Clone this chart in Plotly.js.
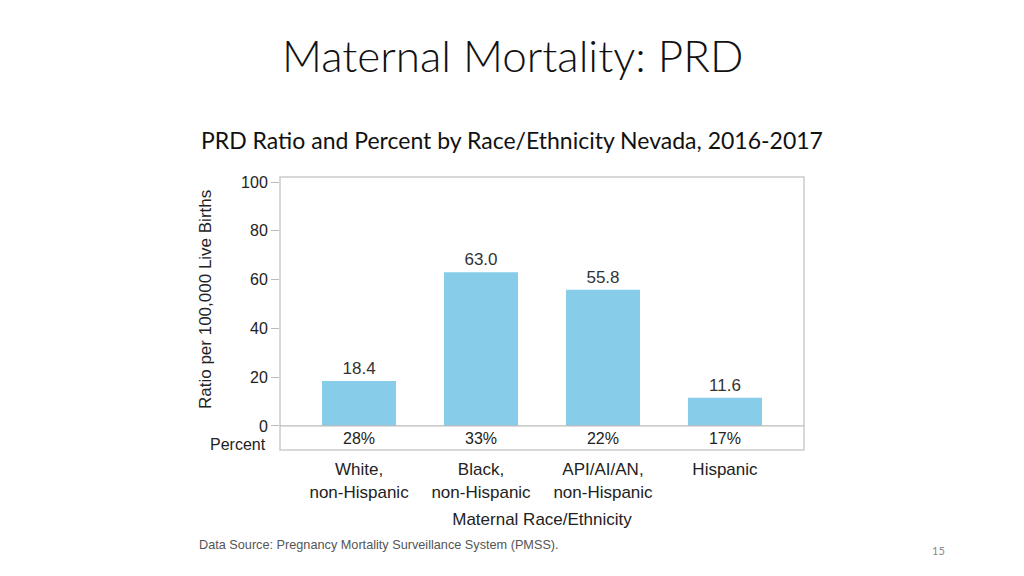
<!DOCTYPE html>
<html>
<head>
<meta charset="utf-8">
<script src="https://cdn.plot.ly/plotly-3.0.1.min.js"></script>
<style>html,body{margin:0;padding:0;background:#fff;}#chart{width:1024px;height:576px;}</style>
</head>
<body>
<div id="chart"></div>
<script>
// Data
const categories = ["White,<br>non-Hispanic", "Black,<br>non-Hispanic", "API/AI/AN,<br>non-Hispanic", "Hispanic"];
const ratios = [18.4, 63.0, 55.8, 11.6];
const ratioLabels = ["18.4", "63.0", "55.8", "11.6"];
const percents = ["28%", "33%", "22%", "17%"];
const yTicks = [0, 20, 40, 60, 80, 100];

const idx = categories.map((c, i) => i);
const FONT = "Liberation Sans, Arial, sans-serif";
const FS = 17;

const bars = {
  type: "bar",
  x: idx,
  y: ratios,
  width: 0.607,
  marker: {color: "#87CDEA", line: {width: 0}},
  text: ratioLabels,
  textposition: "outside",
  cliponaxis: false,
  textfont: {family: FONT, size: FS, color: "#333"},
  hoverinfo: "skip"
};

const pctTrace = {
  type: "scatter",
  mode: "text",
  x: idx,
  y: idx.map(() => -5.6),
  text: percents,
  textposition: "middle center",
  textfont: {family: FONT, size: 16, color: "#222"},
  hoverinfo: "skip",
  cliponaxis: false
};

const layout = {
  width: 1024, height: 576,
  paper_bgcolor: "#ffffff", plot_bgcolor: "#ffffff",
  margin: {l: 280, r: 220, t: 177, b: 126},
  showlegend: false,
  xaxis: {
    range: [-0.648, 3.648],
    tickvals: idx, ticktext: categories,
    showgrid: false, zeroline: false, showline: false,
    ticks: "outside", ticklen: 4, tickcolor: "rgba(0,0,0,0)",
    tickfont: {family: FONT, size: FS, color: "#222"},
    title: {text: "Maternal Race/Ethnicity", font: {family: FONT, size: FS, color: "#222"}, standoff: 12}
  },
  yaxis: {
    range: [-9.85, 102.05],
    tickvals: yTicks,
    showgrid: false, zeroline: false, showline: false,
    ticks: "outside", ticklen: 8, tickcolor: "#bbbbbb", tickwidth: 1,
    tickfont: {family: FONT, size: 16, color: "#222"}
  },
  shapes: [
    {type: "rect", xref: "paper", yref: "paper", x0: 0, x1: 1, y0: 0, y1: 1, line: {color: "#cccccc", width: 1.5}},
    {type: "line", xref: "paper", yref: "y", x0: 0, x1: 1, y0: 0, y1: 0, line: {color: "#bbbbbb", width: 1.2}}
  ],
  annotations: [
    {text: "Maternal Mortality: PRD", showarrow: false,
     font: {family: "Lato, Open Sans, sans-serif", size: 44, color: "#111", weight: 300}},
    {text: "PRD Ratio and Percent by Race/Ethnicity Nevada, 2016-2017", showarrow: false,
     font: {family: "Lato, Open Sans, sans-serif", size: 23, color: "#111"}},
    {text: "Percent", showarrow: false, font: {family: FONT, size: 16, color: "#222"}},
    {text: "Data Source: Pregnancy Mortality Surveillance System (PMSS).", showarrow: false,
     font: {family: FONT, size: 12.7, color: "#555"}},
    {text: "15", showarrow: false, font: {family: "Lato, sans-serif", size: 11, color: "#888"}},
    {text: "Ratio per 100,000 Live Births", showarrow: false, textangle: -90,
     font: {family: FONT, size: FS, color: "#222"}}
  ]
};

// position the page-level text in pixel terms via paper coords
const W = 1024 - 280 - 220, H = 576 - 177 - 126;
function px(x) { return (x - 280) / W; }
function py(y) { return (576 - 126 - y) / H; }
const ann = layout.annotations;
Object.assign(ann[0], {xref: "paper", yref: "paper", x: px(512), y: py(55), xanchor: "center", yanchor: "middle"});
Object.assign(ann[1], {xref: "paper", yref: "paper", x: px(199), y: py(140), xanchor: "left", yanchor: "middle"});
Object.assign(ann[2], {xref: "paper", yref: "paper", x: px(268), y: py(444), xanchor: "right", yanchor: "middle"});
Object.assign(ann[3], {xref: "paper", yref: "paper", x: px(197), y: py(545), xanchor: "left", yanchor: "middle"});
Object.assign(ann[4], {xref: "paper", yref: "paper", x: px(938), y: py(550), xanchor: "center", yanchor: "middle"});
Object.assign(ann[5], {xref: "paper", yref: "paper", x: px(205), y: py(300), xanchor: "center", yanchor: "middle"});

Plotly.newPlot("chart", [bars, pctTrace], layout, {staticPlot: true, displayModeBar: false});
</script>
</body>
</html>
